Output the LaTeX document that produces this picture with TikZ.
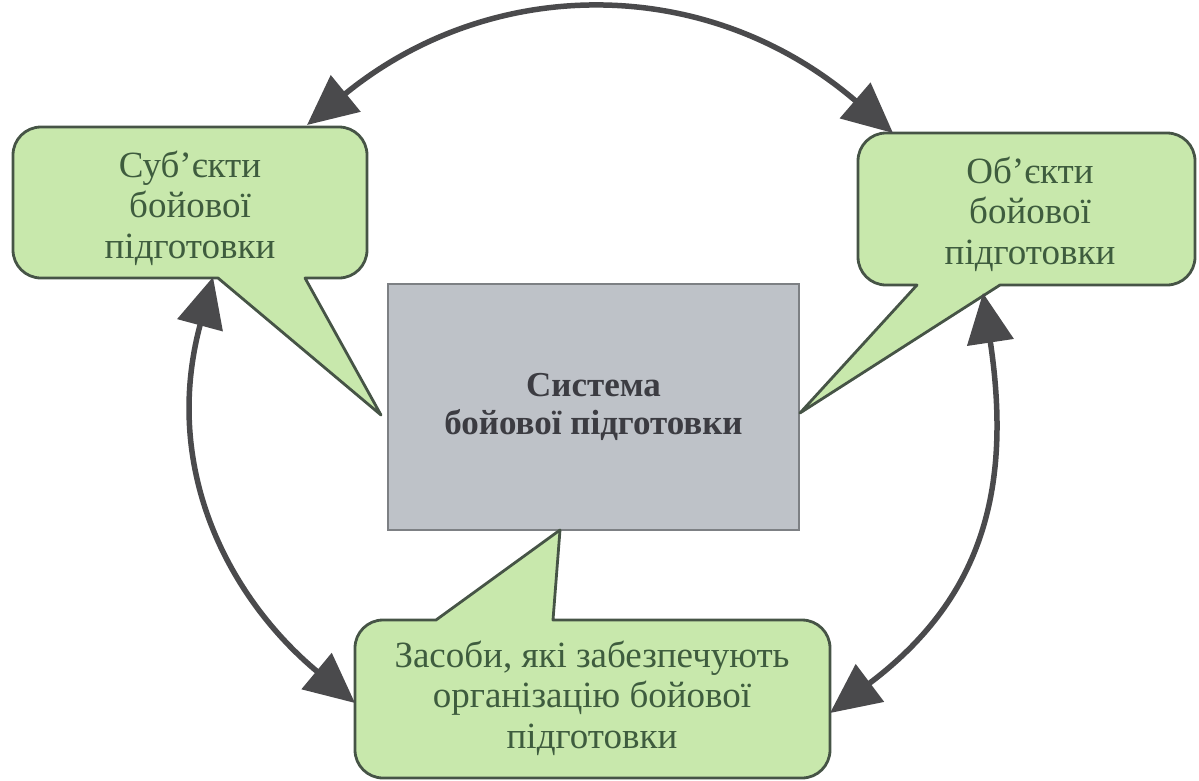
\documentclass[tikz,border=0pt]{standalone}
\usepackage{fontspec}
\setmainfont{Liberation Serif}
\usetikzlibrary{arrows.meta}
\definecolor{calfill}{RGB}{200,232,172}
\definecolor{caldraw}{RGB}{70,84,70}
\definecolor{caltext}{RGB}{62,92,62}
\definecolor{boxfill}{RGB}{190,194,200}
\definecolor{boxdraw}{RGB}{125,128,132}
\definecolor{boxtext}{RGB}{60,60,66}
\definecolor{arr}{RGB}{74,74,76}
\begin{document}
\begin{tikzpicture}[x=1pt,y=-1pt,
  callout/.style={fill=calfill, draw=caldraw, line width=2.8pt, line join=round},
  caltxt/.style={text=caltext, align=center, font=\fontsize{37}{40.5}\selectfont, inner sep=0pt},
  sysbox/.style={fill=boxfill, draw=boxdraw, line width=1.2pt, minimum width=411pt, minimum height=246pt, inner sep=0pt,
    text=boxtext, align=center, font=\fontsize{35}{38}\selectfont\bfseries},
  link/.style={draw=arr, line width=5.5pt, {Triangle[length=50pt,width=46pt]}-{Triangle[length=50pt,width=46pt]}}
]
\useasboundingbox (0,0) rectangle (1199,780);

% central system box
\node[sysbox] (sys) at (593.5,407) {Система\\бойової підготовки};

% left callout
\path[callout] (41,127) -- (339,127) arc[start angle=-90,end angle=0,radius=28]
  -- (367,250) arc[start angle=0,end angle=90,radius=28]
  -- (305,278) -- (381,415) -- (218,278)
  -- (41,278) arc[start angle=90,end angle=180,radius=28]
  -- (13,155) arc[start angle=180,end angle=270,radius=28] -- cycle;
\node[caltxt] (subj) at (190,208) {Суб’єкти\\бойової\\підготовки};

% right callout
\path[callout] (886,133) -- (1167,133) arc[start angle=-90,end angle=0,radius=28]
  -- (1195,257) arc[start angle=0,end angle=90,radius=28]
  -- (1000,285) -- (800,413) -- (917,285)
  -- (886,285) arc[start angle=90,end angle=180,radius=28]
  -- (858,161) arc[start angle=180,end angle=270,radius=28] -- cycle;
\node[caltxt] (obj) at (1030,214) {Об’єкти\\бойової\\підготовки};

% bottom callout
\path[callout] (383,620) -- (436,620) -- (560,530) -- (553,620)
  -- (802,620) arc[start angle=-90,end angle=0,radius=28]
  -- (830,750) arc[start angle=0,end angle=90,radius=28]
  -- (383,778) arc[start angle=90,end angle=180,radius=28]
  -- (355,648) arc[start angle=180,end angle=270,radius=28] -- cycle;
\node[caltxt] (mean) at (592,698) {Засоби, які забезпечують\\організацію бойової\\підготовки};

% arrow end points
\coordinate (subjTop) at (307,125);
\coordinate (objTop) at (893,133);
\coordinate (subjBot) at (213,277);
\coordinate (meanL) at (355,703);
\coordinate (objBot) at (983,293);
\coordinate (meanR) at (830,713);

\draw[link] (subjTop) .. controls (492,-26) and (708,-26) .. (objTop);
\draw[link] (subjBot) .. controls (161,470) and (230,599) .. (meanL);
\draw[link] (objBot) .. controls (1013,493) and (980,600) .. (meanR);
\end{tikzpicture}
\end{document}
